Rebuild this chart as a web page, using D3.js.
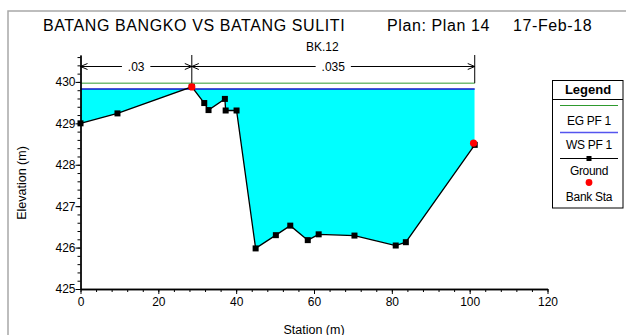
<!DOCTYPE html>
<html>
<head>
<meta charset="utf-8">
<script src="https://cdn.jsdelivr.net/npm/d3@7"></script>
<style>
  body { margin: 0; background: #fff; }
  svg { display: block; font-family: "Liberation Sans", Arial, sans-serif; }
</style>
</head>
<body>
<svg width="626" height="335"></svg>
<script>
// ground profile of the cross section (station m, elevation m)
var stations = [0, 9.5, 28.6, 31.8, 32.9, 37.1, 37.3, 40.1, 45.0, 50.2, 53.9, 58.4, 61.2, 70.4, 81.0, 83.6, 101.3];
var elevations = [429.00, 429.24, 429.88, 429.49, 429.32, 429.59, 429.31, 429.31, 425.98, 426.30, 426.53, 426.18, 426.32, 426.29, 426.05, 426.13, 428.48];

// bank stations
var bankStations = [28.6, 101.0];
var bankElevations = [429.88, 428.52];

// water surface and energy grade for profile PF 1
var wsElevation = 429.83;
var egElevation = 429.97;

// manning n breaks
var nBreaks = [0, 28.6, 101.3];
var nValues = [".03", ".035"];

// tick labels
var xTicks = [0, 20, 40, 60, 80, 100, 120];
var yTicks = [425, 426, 427, 428, 429, 430];

var legendItems = ["EG PF 1", "WS PF 1", "Ground", "Bank Sta"];

var svg = d3.select("svg");

// plot area in pixels
var plotLeft = 80.5, plotRight = 547.5, plotTop = 55, plotBottom = 289;

var x = d3.scaleLinear().domain([0, 120]).range([plotLeft, plotRight]);
var y = d3.scaleLinear().domain([425, 430.65]).range([plotBottom, plotTop]);

var ground = stations.map(function(s, i) { return {s: s, e: elevations[i]}; });
var lastSta = stations[stations.length - 1];

// outer frame (cropped at right and bottom)
svg.append("path")
  .attr("d", "M8,335V11H626")
  .attr("fill", "none")
  .attr("stroke", "#a8a8a8")
  .attr("stroke-width", 1.5);

// titles
svg.append("text")
  .attr("x", 43).attr("y", 31)
  .attr("font-size", 16).attr("letter-spacing", 0.6)
  .text("BATANG BANGKO VS BATANG SULITI");
svg.append("text")
  .attr("x", 387).attr("y", 31)
  .attr("font-size", 16).attr("letter-spacing", 0.6)
  .text("Plan: Plan 14");
svg.append("text")
  .attr("x", 513).attr("y", 31)
  .attr("font-size", 16).attr("letter-spacing", 0.6)
  .text("17-Feb-18");
svg.append("text")
  .attr("x", 306).attr("y", 50.5)
  .attr("font-size", 12)
  .text("BK.12");

// water fill, clipped under the water surface
svg.append("clipPath").attr("id", "under-ws")
  .append("rect")
  .attr("x", x(0)).attr("y", y(wsElevation))
  .attr("width", x(lastSta) - x(0)).attr("height", plotBottom - y(wsElevation));

var fillPts = ground.map(function(d) { return [x(d.s), y(d.e)]; });
fillPts.push([x(lastSta), y(wsElevation)]);
fillPts.push([x(0), y(wsElevation)]);

svg.append("path")
  .attr("d", "M" + fillPts.join("L") + "Z")
  .attr("fill", "#00ffff")
  .attr("clip-path", "url(#under-ws)");

// EG and WS lines
svg.append("line")
  .attr("x1", x(0)).attr("x2", x(lastSta))
  .attr("y1", y(egElevation)).attr("y2", y(egElevation))
  .attr("stroke", "#2e9a2e").attr("stroke-width", 1);
svg.append("line")
  .attr("x1", x(0)).attr("x2", x(lastSta))
  .attr("y1", y(wsElevation)).attr("y2", y(wsElevation))
  .attr("stroke", "#1515c8").attr("stroke-width", 1.5);

// ground line and markers
var line = d3.line().x(function(d) { return x(d.s); }).y(function(d) { return y(d.e); });
svg.append("path")
  .datum(ground)
  .attr("d", line)
  .attr("fill", "none")
  .attr("stroke", "#000")
  .attr("stroke-width", 1.3);

svg.append("g").selectAll("rect")
  .data(ground)
  .enter().append("rect")
    .attr("x", function(d) { return x(d.s) - 3; })
    .attr("y", function(d) { return y(d.e) - 3; })
    .attr("width", 6).attr("height", 6)
    .attr("fill", "#000");

// bank stations
svg.append("g").selectAll("circle")
  .data(bankStations)
  .enter().append("circle")
    .attr("cx", function(d) { return x(d); })
    .attr("cy", function(d, i) { return y(bankElevations[i]); })
    .attr("r", 3.6)
    .attr("fill", "#ff0000");

// manning n markers above the plot
var nLineY = 66.5;
var rough = svg.append("g").attr("stroke", "#000").attr("fill", "none");
nBreaks.forEach(function(b, i) {
  if (i > 0) {
    rough.append("line")
      .attr("x1", x(b)).attr("x2", x(b))
      .attr("y1", plotTop).attr("y2", y(egElevation));
  }
});
nValues.forEach(function(v, i) {
  var x0 = x(nBreaks[i]), x1 = x(nBreaks[i + 1]);
  var xm = (x0 + x1) / 2;
  var half = v.length * 3.4 + 4;
  rough.append("line").attr("x1", x0).attr("x2", xm - half).attr("y1", nLineY).attr("y2", nLineY);
  rough.append("line").attr("x1", xm + half).attr("x2", x1).attr("y1", nLineY).attr("y2", nLineY);
  // arrowheads pointing out to the breaks
  rough.append("path").attr("d", "M" + (x0 + 7) + "," + (nLineY - 3) + "L" + x0 + "," + nLineY + "L" + (x0 + 7) + "," + (nLineY + 3));
  rough.append("path").attr("d", "M" + (x1 - 7) + "," + (nLineY - 3) + "L" + x1 + "," + nLineY + "L" + (x1 - 7) + "," + (nLineY + 3));
  svg.append("text")
    .attr("x", xm).attr("y", nLineY + 4.5)
    .attr("text-anchor", "middle")
    .attr("font-size", 12)
    .text(v);
});

// axes
var xMinor = d3.range(0, 121, 4);
var yMinor = d3.range(0, 29).map(function(i) { return 425 + i * 0.2; });

svg.append("g")
  .attr("transform", "translate(0," + plotBottom + ")")
  .call(d3.axisBottom(x).tickValues(xMinor).tickSize(3).tickFormat("").tickSizeOuter(0));
var xAxis = svg.append("g")
  .attr("transform", "translate(0," + plotBottom + ")")
  .call(d3.axisBottom(x).tickValues(xTicks).tickSize(5).tickSizeOuter(0).tickFormat(d3.format("d")));

svg.append("g")
  .attr("transform", "translate(" + plotLeft + ",0)")
  .call(d3.axisLeft(y).tickValues(yMinor).tickSize(3).tickFormat("").tickSizeOuter(0));
var yAxis = svg.append("g")
  .attr("transform", "translate(" + plotLeft + ",0)")
  .call(d3.axisLeft(y).tickValues(yTicks).tickSize(5).tickSizeOuter(0).tickFormat(d3.format("d")));

svg.selectAll(".domain").attr("stroke-width", 1.3);
svg.selectAll(".tick text")
  .attr("font-family", "'Liberation Sans', Arial, sans-serif")
  .attr("font-size", 12)
  .attr("fill", "#000");
xAxis.selectAll(".tick text").attr("y", 8);
yAxis.selectAll(".tick text").attr("x", -5);

// axis titles
svg.append("text")
  .attr("transform", "translate(26,183) rotate(-90)")
  .attr("text-anchor", "middle")
  .attr("font-size", 12.5)
  .text("Elevation (m)");
svg.append("text")
  .attr("x", 314).attr("y", 333.5)
  .attr("text-anchor", "middle")
  .attr("font-size", 12.5)
  .text("Station (m)");

// legend
var lg = svg.append("g");
lg.append("rect")
  .attr("x", 552.5).attr("y", 80.5)
  .attr("width", 70.5).attr("height", 127.5)
  .attr("fill", "#fff").attr("stroke", "#000").attr("stroke-width", 1);
lg.append("line")
  .attr("x1", 552.5).attr("x2", 623).attr("y1", 99.5).attr("y2", 99.5)
  .attr("stroke", "#000");
lg.append("text")
  .attr("x", 588).attr("y", 94)
  .attr("text-anchor", "middle")
  .attr("font-size", 13).attr("font-weight", "bold")
  .text("Legend");

var lx0 = 560, lx1 = 618, lxm = 589;
lg.append("line").attr("x1", lx0).attr("x2", lx1).attr("y1", 105.5).attr("y2", 105.5)
  .attr("stroke", "#2e9a2e");
lg.append("line").attr("x1", lx0).attr("x2", lx1).attr("y1", 132.5).attr("y2", 132.5)
  .attr("stroke", "#5555ee").attr("stroke-width", 1.5);
lg.append("line").attr("x1", lx0).attr("x2", lx1).attr("y1", 158.5).attr("y2", 158.5)
  .attr("stroke", "#000");
lg.append("rect").attr("x", lxm - 2.5).attr("y", 156).attr("width", 5).attr("height", 5).attr("fill", "#000");
lg.append("circle").attr("cx", lxm).attr("cy", 182.5).attr("r", 3.4).attr("fill", "#ff0000");

var textY = [124.5, 148.5, 175, 201];
lg.selectAll("text.item")
  .data(legendItems)
  .enter().append("text")
    .attr("class", "item")
    .attr("x", lxm).attr("y", function(d, i) { return textY[i]; })
    .attr("text-anchor", "middle")
    .attr("font-size", 12)
    .attr("letter-spacing", -0.3)
    .text(function(d) { return d; });
</script>
</body>
</html>
